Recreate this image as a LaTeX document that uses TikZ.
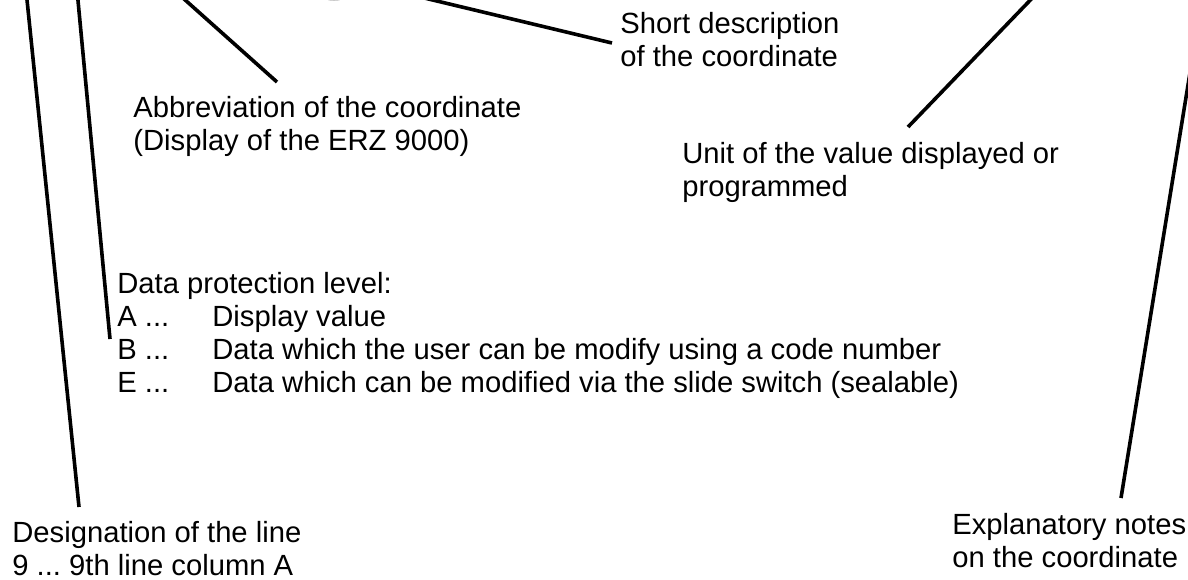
\documentclass[tikz,border=0pt]{standalone}
\usepackage{fontspec}
\setmainfont{Liberation Sans}
\usetikzlibrary{positioning}
\frenchspacing

\begin{document}
\begin{tikzpicture}[x=0.5pt, y=-0.5pt,
						% Define styles for the labels and the leader lines
						note/.style={anchor=base west, inner sep=0pt, align=left, font=\fontsize{14.6pt}{16.5pt}\selectfont},
						leader/.style={line width=1.8pt}
						]
						\useasboundingbox (0,0) rectangle (1188,579);
						\clip (0,0) rectangle (1188,579);
						
						% Cut-off part of the figure above
						\draw[gray, line width=1.5pt] (334,-10.5) ellipse (19 and 9.5);
						
						% Place the labels (anchored at the baseline of the last line)
						\node[note] (abbr) at (133,150) {Abbreviation of the coordinate\\(Display of the ERZ 9000)};
						\node[note] (short) at (620,66) {Short description\\of the coordinate};
						\node[note] (unit) at (682,196) {Unit of the value displayed or\\programmed};
						\node[note] (level) at (117,392) {Data protection level:\\
							\makebox[47.5pt][l]{A ...}Display value\\
							\makebox[47.5pt][l]{B ...}Data which the user can be modify using a code number\\
							\makebox[47.5pt][l]{E ...}Data which can be modified via the slide switch (sealable)};
						\node[note] (desig) at (12,575) {Designation of the line\\9 ... 9th line column A};
						\node[note] (notes) at (952,567) {Explanatory notes\\on the coordinate};
						
						% Ends of the leader lines
						\coordinate (desig tip) at (79,507);
						\coordinate (desig out) at (26,-10);
						\coordinate (level tip) at (110,339);
						\coordinate (level out) at (77,-10);
						\coordinate (abbr tip) at (277,82);
						\coordinate (abbr out) at (174,-10);
						\coordinate (short tip) at (612,43);
						\coordinate (short out) at (391,-10);
						\coordinate (unit tip) at (908,127);
						\coordinate (unit out) at (1040,-10);
						\coordinate (notes tip) at (1121,498);
						\coordinate (notes out) at (1200,11);
						
						% --- Draw the leader lines ---
						\draw[leader] (desig tip) -- (desig out);
						\draw[leader] (level tip) -- (level out);
						\draw[leader] (abbr tip) -- (abbr out);
						\draw[leader] (short tip) -- (short out);
						\draw[leader] (unit tip) -- (unit out);
						\draw[leader] (notes tip) -- (notes out);
					\end{tikzpicture}
\end{document}
